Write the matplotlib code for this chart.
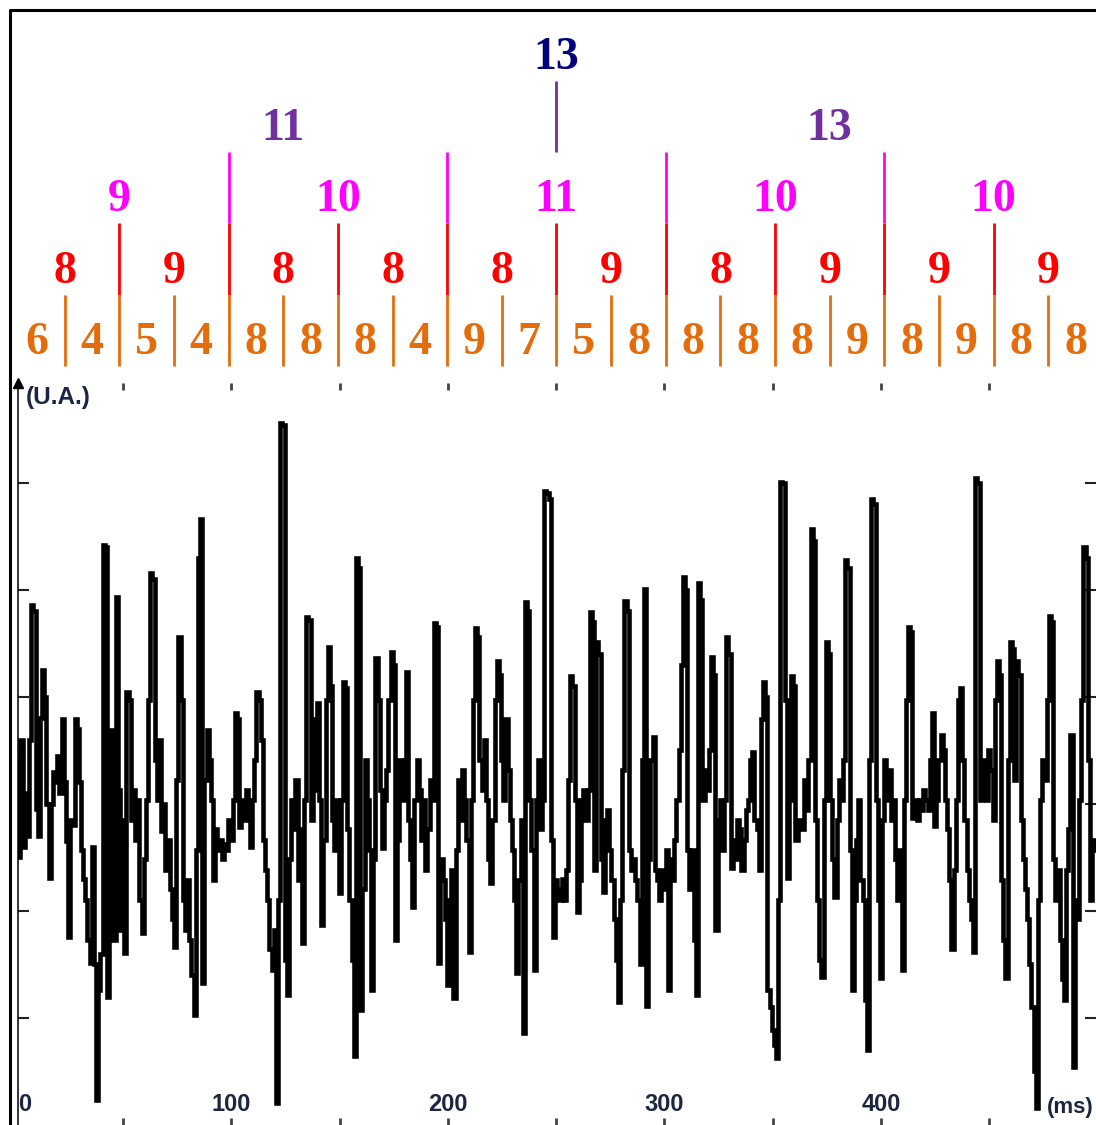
import numpy as np
import matplotlib.pyplot as plt
from matplotlib.lines import Line2D

# metrical tree above the trace, lowest level first
level_values = [
    [6, 4, 5, 4, 8, 8, 8, 4, 9, 7, 5, 8, 8, 8, 8, 9, 8, 9, 8, 8],
    [8, 9, 8, 8, 8, 9, 8, 9, 9, 9],
    [9, 10, 11, 10, 10],
    [11, 13],
    [13],
]
level_colors = ['#E46C0A', '#FF0000', '#FF00FF', '#7030A0', '#000080']

# signal (U.A.), one sample per ms starting at t = 1 ms
sig_0_100 = [
    2.4, 1.5, 2.6, 1.6, 2.1, 1.7, 2.6, 3.86, 3.8, 1.95, 1.7, 2.8, 3.25, 3.0, 2.0, 1.31, 2.0, 2.3, 2.2, 2.45, 2.1, 2.79, 2.2, 1.65, 0.76,
    1.85, 1.8, 2.79, 2.7, 2.2, 1.57, 1.3, 1.1, 0.73, 0.51, 1.6, 0.5, -0.77, 0.26, 0.6, 4.42, 4.4, 0.2, 0.9, 2.69, 0.73, 3.93, 2.13, 0.82, 1.85,
    0.61, 3.04, 2.97, 1.85, 2.13, 1.66, 2.04, 1.1, 0.79, 1.48, 2.04, 2.97, 4.16, 4.1, 2.41, 2.04, 2.6, 1.75, 2.0, 1.38, 1.66, 1.2, 0.92, 0.66, 2.22,
    3.56, 2.97, 1.1, 0.82, 1.29, 0.73, 0.4, 0.03, 1.57, 4.3, 4.66, 0.33, 2.22, 2.69, 2.41, 2.04, 1.29, 1.76, 1.57, 1.66, 1.48, 1.62, 1.57, 1.85, 1.66,
]
sig_100_200 = [
    2.04, 2.85, 2.79, 1.78, 2.04, 1.85, 2.13, 1.94, 1.6, 2.04, 2.41, 3.04, 2.97, 2.6, 1.66, 1.38, 1.1, 0.64, 0.45, 0.82, -0.79, 1.1, 5.56, 5.54, 0.54,
    0.21, 1.48, 2.04, 1.76, 2.22, 1.29, 1.76, 0.7, 2.04, 3.74, 3.72, 1.85, 2.13, 2.79, 2.94, 2.04, 0.87, 1.66, 2.97, 3.46, 3.1, 1.85, 1.57, 2.04, 1.17,
    2.04, 3.14, 3.08, 1.76, 1.1, 0.54, -0.36, 4.3, 4.2, 0.07, 1.2, 2.41, 2.04, 1.57, 0.26, 1.48, 3.36, 2.97, 2.13, 1.59, 2.04, 2.32, 2.97, 3.42, 3.3,
    0.73, 1.66, 2.41, 2.04, 2.41, 3.23, 1.85, 1.48, 1.04, 2.04, 2.41, 2.13, 1.66, 2.04, 1.38, 1.76, 2.22, 2.04, 3.69, 3.65, 0.51, 1.48, 1.29, 0.92, 0.31,
]
sig_200_300 = [
    1.1, 1.38, 0.19, 1.57, 2.22, 1.85, 2.32, 2.04, 1.66, 0.62, 2.04, 2.97, 3.64, 3.56, 2.41, 2.13, 2.6, 2.04, 1.48, 1.26, 1.85, 2.97, 3.33, 3.2, 2.41,
    2.04, 2.79, 2.32, 1.85, 1.57, 1.1, 0.42, 1.29, 1.85, -0.14, 3.88, 3.8, 2.04, 1.57, 0.45, 2.04, 2.41, 1.76, 2.04, 4.92, 4.9, 4.85, 1.66, 0.76, 1.29,
    1.2, 1.1, 1.3, 1.1, 1.38, 2.22, 3.19, 3.1, 2.04, 0.99, 1.29, 2.04, 2.13, 1.85, 2.13, 3.79, 3.7, 1.38, 3.51, 3.4, 1.48, 1.18, 1.85, 1.94, 1.57,
    1.29, 0.92, 0.54, 0.15, 1.1, 2.32, 3.89, 3.8, 1.57, 1.38, 1.48, 1.29, 1.1, 0.5, 2.41, 4.01, 0.11, 1.48, 2.41, 2.62, 1.38, 1.29, 1.1, 1.38, 1.2,
]
sig_300_400 = [
    1.57, 0.26, 1.48, 1.29, 1.66, 2.04, 2.5, 3.3, 4.12, 4.0, 1.57, 1.2, 1.57, 0.73, 0.21, 4.06, 3.9, 2.04, 2.32, 2.13, 2.5, 3.37, 3.2, 0.82, 1.85,
    2.04, 1.57, 2.04, 3.56, 3.4, 1.4, 1.66, 1.48, 1.85, 1.76, 1.38, 1.66, 1.94, 2.04, 2.41, 2.48, 1.85, 1.76, 1.38, 2.79, 3.14, 3.0, 0.26, 0.1, -0.11,
    -0.25, -0.37, 1.1, 5.01, 5.0, 2.97, 1.31, 2.04, 3.19, 3.1, 1.66, 1.85, 1.76, 1.76, 2.22, 1.94, 2.41, 4.57, 4.45, 1.85, 1.1, 0.54, 0.38, 2.04, 3.51,
    3.4, 2.04, 1.48, 1.13, 1.85, 2.22, 2.04, 2.41, 4.28, 4.2, 1.57, 0.26, 1.1, 1.66, 2.04, 1.29, 1.1, 0.17, -0.3, 2.41, 4.85, 4.8, 2.04, 1.1, 0.37,
]
sig_400_500 = [
    1.85, 2.41, 2.04, 2.32, 1.85, 2.04, 1.48, 1.1, 1.57, 0.45, 2.04, 2.97, 3.65, 3.6, 1.87, 2.04, 1.85, 2.04, 1.94, 2.13, 2.04, 1.94, 2.41, 2.85, 1.79,
    2.04, 2.41, 2.64, 2.5, 2.04, 1.76, 1.29, 0.64, 1.38, 2.04, 2.97, 3.08, 2.41, 1.85, 1.38, 1.1, 0.92, 0.62, 5.04, 5.0, 2.04, 2.22, 2.41, 2.04, 2.5,
    2.32, 1.85, 2.97, 3.33, 3.2, 1.29, 0.73, 0.37, 2.41, 3.51, 3.45, 2.22, 3.33, 3.2, 1.85, 1.48, 1.2, 0.92, 0.5, 0.1, -0.5, -0.84, 1.1, 2.04, 2.41,
    2.22, 2.97, 3.75, 3.7, 1.48, 1.1, 1.38, 0.73, 0.36, 0.17, 1.38, 1.76, 2.64, -0.46, 1.1, 0.92, 2.04, 2.97, 4.4, 4.3, 2.41, 1.1, 1.66, 1.57,
]
x_labels = [0, 100, 200, 300, 400]

amp = np.array(sig_0_100 + sig_100_200 + sig_200_300 + sig_300_400 + sig_400_500)
t_ms = np.arange(1, len(amp) + 1)

W, H = 1096, 1125
fig = plt.figure(figsize=(W / 100, H / 100), dpi=100)

label_kw = dict(family='Liberation Sans', fontweight='bold', color='#1c2541')

# --- signal panel
ax = fig.add_axes([18 / W, 0, 1078 / W, 742 / H])
ax.plot(t_ms, amp, color='black', lw=3.3, drawstyle='steps-mid', solid_joinstyle='miter')
ax.set_xlim(1.4, 499.3)
ax.set_ylim(-1.0, 5.93)
for side in ['top', 'right', 'bottom']:
    ax.spines[side].set_visible(False)
ax.spines['left'].set_linewidth(1.1)

ax.set_xticks(np.arange(50, 500, 50))
ax.set_yticks(range(6))
ax.tick_params(axis='x', direction='in', length=5, width=2, color='#444444',
               top=True, bottom=True, labelbottom=False)
ax.tick_params(axis='y', direction='in', length=8, width=1.5, color='#222222',
               left=True, right=True, labelleft=False)

for v in x_labels:
    ax.text(v if v else 1.6, 0.027, str(v), transform=ax.get_xaxis_transform(),
            ha='center' if v else 'left', va='center', fontsize=17, **label_kw)
ax.text(0.998, 0.024, '(ms)', transform=ax.transAxes, ha='right', va='center',
        fontsize=16, **label_kw)
ax.text(0.007, 0.981, '(U.A.)', transform=ax.transAxes, ha='left', va='center',
        fontsize=17.5, **label_kw)
ax.plot(0, 1, marker='^', ms=7, color='black', transform=ax.transAxes, clip_on=False)

# --- tree panel (x in base segments, y in tree levels)
tax = fig.add_axes([0, 0, 1, 1])
tax.set_xlim(-10 / 54.65, (W - 10) / 54.65)
tax.set_ylim((366 - H) / 71.3, 366 / 71.3)
tax.axis('off')

n_base = len(level_values[0])
for k, vals in enumerate(level_values):
    size = n_base // len(vals)
    for i, v in enumerate(vals):
        tax.text(i * size + size / 2, k + 0.17, str(v), ha='center', va='baseline',
                 color=level_colors[k], fontsize=33, fontweight='bold',
                 family='Liberation Serif')
        if i > 0 and k < len(level_values) - 1:
            tax.vlines(i * size, k, k + 1, color=level_colors[k], lw=2)

# frame around the whole picture
fig.add_artist(Line2D([10 / W, 10 / W, 1], [0, 1 - 10 / H, 1 - 10 / H],
                      color='black', lw=2.2))

fig.savefig('out.png', dpi=100)
